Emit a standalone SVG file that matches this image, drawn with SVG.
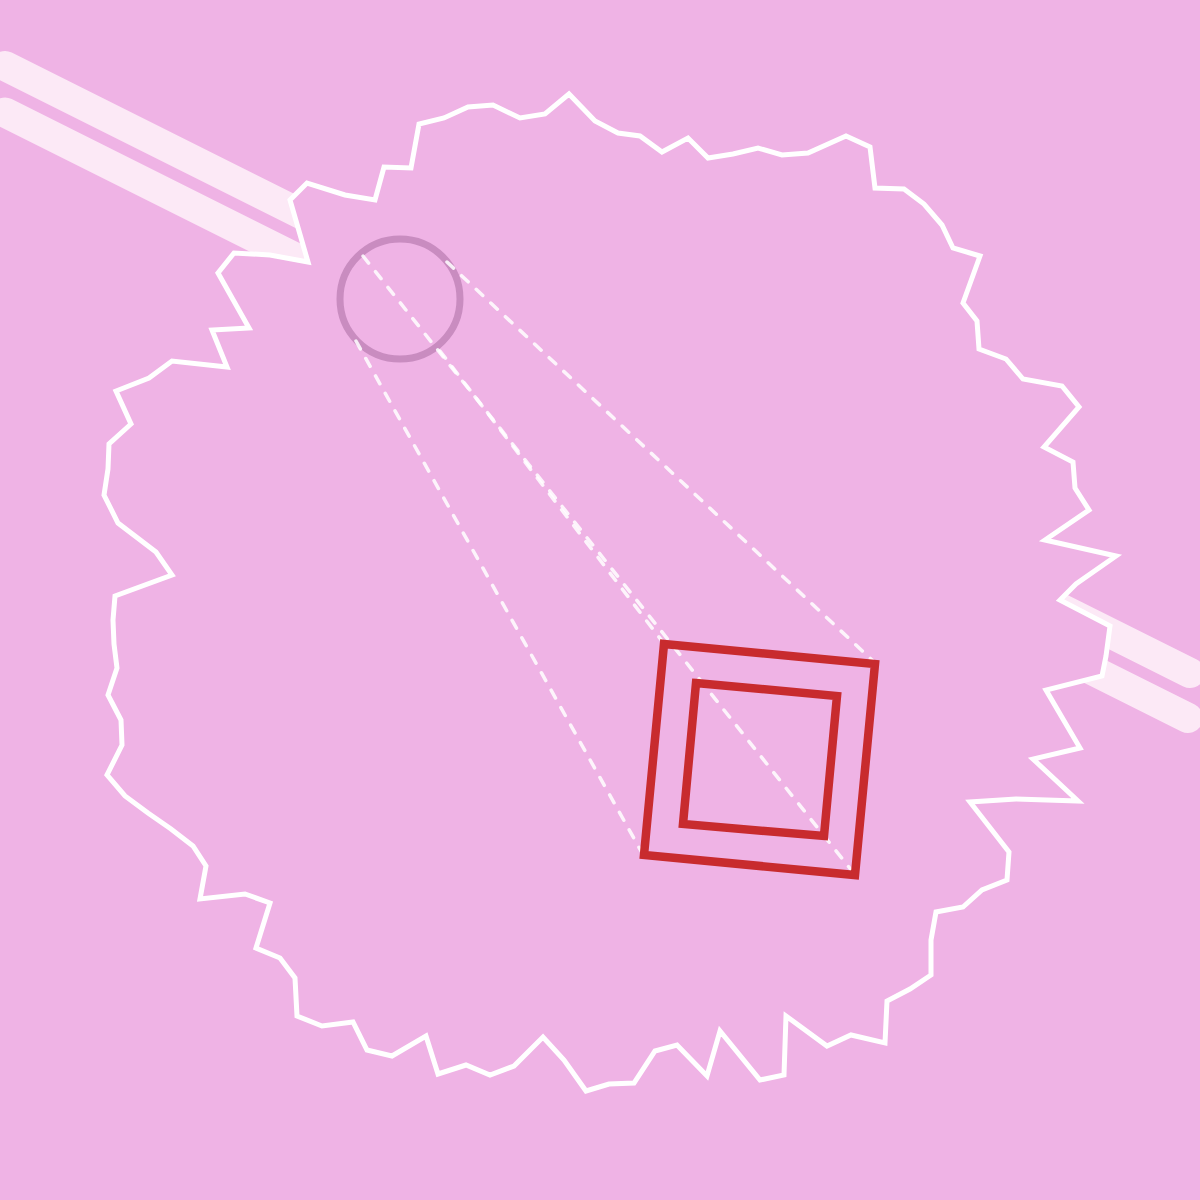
<svg xmlns="http://www.w3.org/2000/svg" width="1200" height="1200" viewBox="0 0 1200 1200">
  <style>
    .band { stroke: #fce9f6; stroke-width: 30; stroke-linecap: round; fill: none; }
    .outline { fill: #efb3e5; stroke: #ffffff; stroke-width: 5; stroke-linejoin: miter; stroke-miterlimit: 10; }
    .ray { stroke: #ffffff; stroke-opacity: 0.85; stroke-width: 3.5; stroke-linecap: round; stroke-dasharray: 9 11; fill: none; }
    .lens { fill: none; stroke: #c98cc0; stroke-width: 7; }
    .frame { fill: none; stroke: #c82b2e; stroke-width: 8.5; stroke-linejoin: miter; }
  </style>
  <rect id="background" x="0" y="0" width="1200" height="1200" fill="#efb3e5"/>
  <g id="bands">
    <line class="band" x1="5" y1="66" x2="400" y2="263.5"/>
    <line class="band" x1="5" y1="112.5" x2="400" y2="310"/>
    <line class="band" x1="1000" y1="578" x2="1190" y2="673"/>
    <line class="band" x1="1000" y1="624" x2="1188" y2="718"/>
  </g>
  <g id="region">
    <polygon class="outline" points="308,262 290,200 307,183 345,195 375,200 384,167 411,168 419,124 444,118 468,107 493,105 520,118 545,114 569,94 595,121 618,133 640,136 662,152 688,138 708,158 733,154 758,148 782,155 808,153 846,136 870,147 875,188 904,189 924,204 942,225 953,248 980,256 963,303 977,321 979,349 1006,359 1023,379 1062,386 1079,407 1044,447 1073,462 1075,488 1089,510 1045,540 1116,556 1076,584 1060,600 1110,626 1106,656 1102,676 1046,690 1080,748 1033,759 1078,801 1016,799 970,802 1009,852 1007,880 982,890 963,907 936,912 931,940 931,975 910,989 887,1001 885,1043 851,1035 827,1046 786,1016 784,1075 760,1080 720,1031 707,1076 677,1045 655,1051 634,1083 609,1084 586,1091 564,1060 543,1037 514,1066 490,1075 466,1065 438,1074 426,1036 392,1056 367,1050 353,1022 322,1026 297,1016 295,978 280,958 256,948 270,903 245,894 200,899 206,866 193,846 171,829 148,813 125,796 107,775 122,745 121,720 108,695 117,668 114,644 113,620 115,596 172,575 156,552 118,523 104,495 108,469 109,444 131,424 116,391 149,378 172,361 227,367 212,330 249,328 218,273 234,253 270,255"/>
  </g>
  <g id="lens">
    <circle class="lens" cx="400" cy="299" r="60"/>
  </g>
  <g id="connectors">
    <line class="ray" x1="363" y1="256" x2="852" y2="871"/>
    <line class="ray" x1="440" y1="351" x2="662" y2="641"/>
    <line class="ray" x1="447" y1="262" x2="872" y2="660"/>
    <line class="ray" x1="356" y1="341" x2="641" y2="851"/>
  </g>
  <g id="outer-frame">
    <polygon class="frame" points="664,644 875,664 855,875 644,855"/>
  </g>
  <g id="inner-frame">
    <polygon class="frame" points="696,683 837,696 824,836 683,824"/>
  </g>
</svg>
